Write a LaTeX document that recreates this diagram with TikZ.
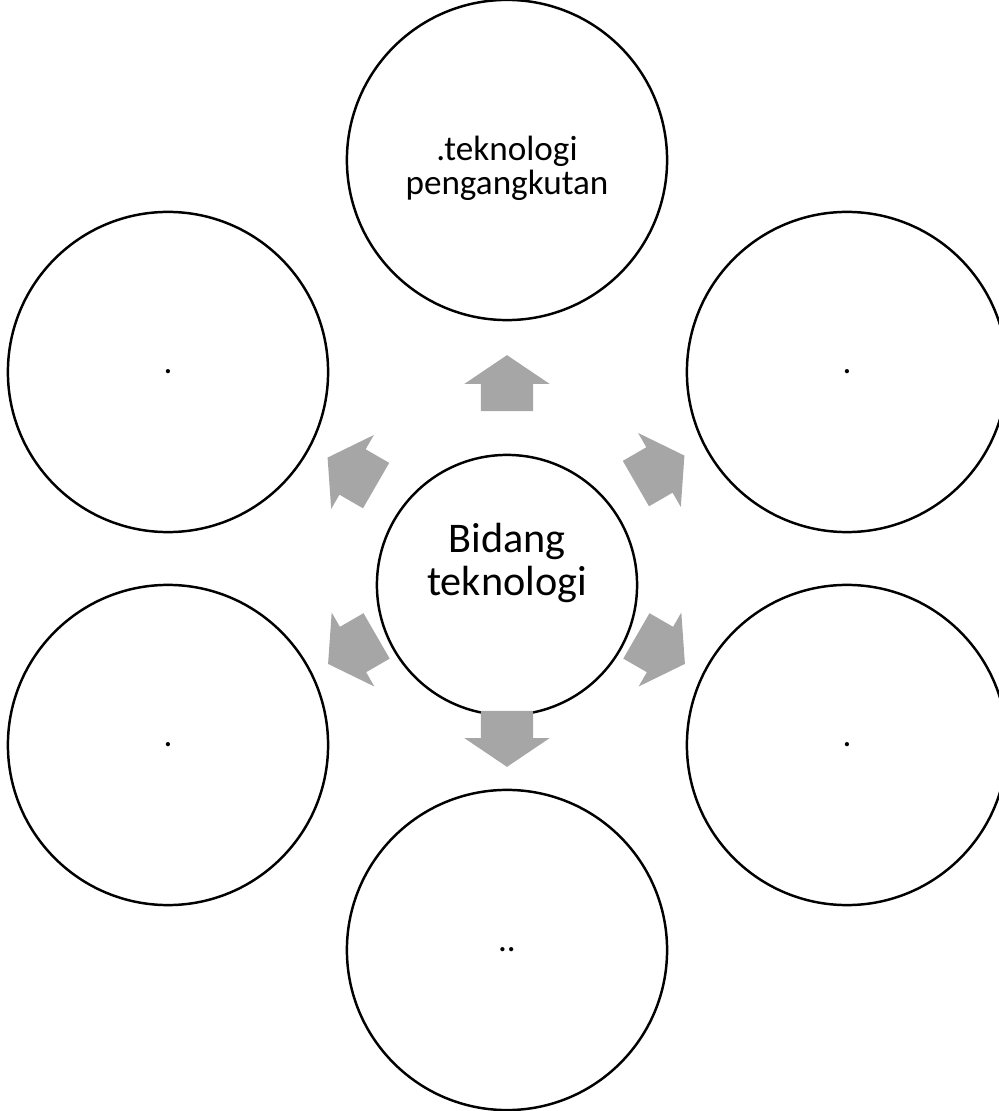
\documentclass[tikz,border=0pt]{standalone}
\usepackage{fontspec}
\setmainfont{Carlito}
\usetikzlibrary{shapes.arrows}

\definecolor{arrowgray}{RGB}{166,166,166}

\begin{document}
\begin{tikzpicture}
	[x=0.01cm,y=0.01cm,
	 c/.style={circle,draw=black,line width=0.7pt,minimum size=3.2cm,inner sep=0pt,font=\fontsize{10}{9.7}\selectfont},
	 t/.style={font=\fontsize{10}{9.7}\selectfont,align=center},
	 a/.style={single arrow,fill=arrowgray,draw=none,inner xsep=0pt,inner ysep=0.255cm,minimum height=0.56cm,single arrow head extend=0.165cm,single arrow tip angle=112}]

	\useasboundingbox (0,0) rectangle (999,1111);

	\node[c,minimum size=2.6cm,label={[font=\fontsize{12}{12.5}\selectfont,align=center,yshift=0.22cm]center:Bidang\\teknologi}] (n0) at (507,526) {};

	\node[c,label={[t,yshift=-0.08cm]center:.teknologi\\pengangkutan}] (n1) at (507,951) {};
	\node[c] (n2) at (847,739) {.};
	\node[c] (n3) at (847,366) {.};
	\node[c] (n4) at (507,161) {..};
	\node[c] (n5) at (168,366) {.};
	\node[c] (n6) at (168,739) {.};

	\node[a,rotate=90] (a1) at (507,719) {};
	\node[a,rotate=30] (a2) at (652.5,637) {};
	\node[a,rotate=-30] (a3) at (653,465.5) {};
	\node[a,rotate=-90] (a4) at (507,381) {};
	\node[a,rotate=210] (a5) at (360,465.5) {};
	\node[a,rotate=150] (a6) at (359.5,635) {};

\end{tikzpicture}
\end{document}
